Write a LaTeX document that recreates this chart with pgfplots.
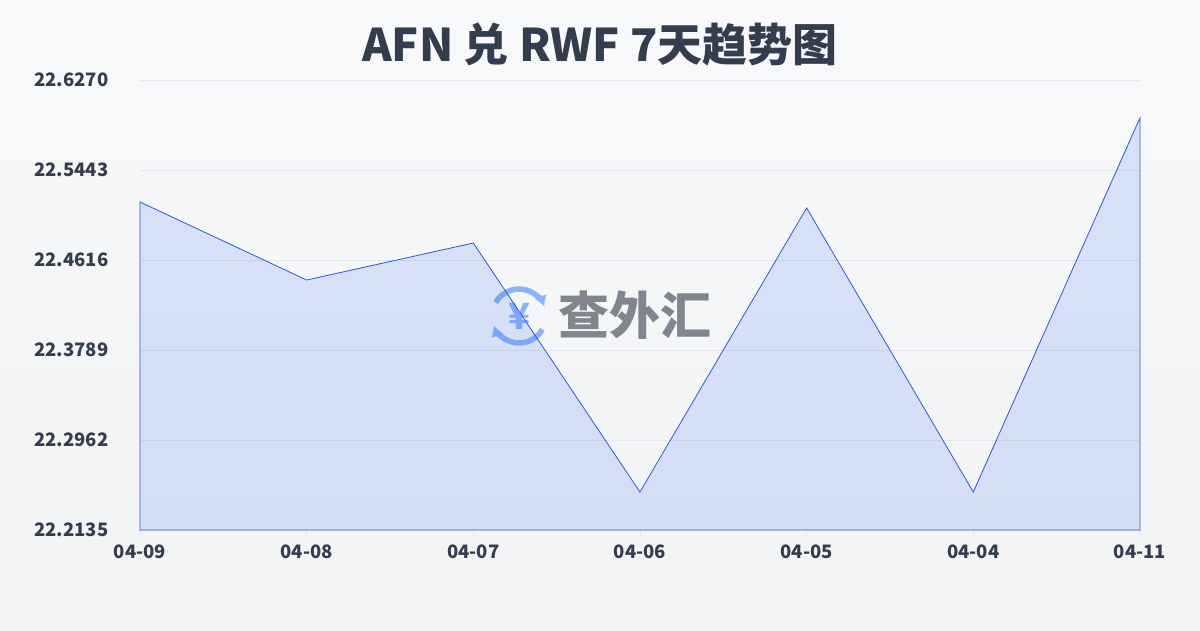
\documentclass[border=0pt]{standalone}
\usepackage{pgfplots}
\pgfplotsset{compat=1.18}
\usetikzlibrary{arrows.meta}
\usepackage{fontspec}
\setmainfont{Noto Sans CJK SC}
\newfontfamily\cjk{Noto Sans CJK SC}
\definecolor{txt}{HTML}{333D4D}
\definecolor{gridc}{HTML}{E3E6EA}
\definecolor{linec}{HTML}{2A5BD0}
\definecolor{fillc}{HTML}{2563EB}
\definecolor{wmblue}{HTML}{8AB4F8}
\definecolor{wmgray}{HTML}{80858E}
\begin{document}
\begin{tikzpicture}[x=1pt,y=1pt]
\shade[top color={rgb,255:red,248;green,249;blue,251}, bottom color={rgb,255:red,241;green,243;blue,245}] (-140,-100) rectangle (1060,530);
\node[font=\cjk\bfseries\fontsize{45}{50}\selectfont, text=txt] at (460,485) {AFN 兑 RWF 7天趋势图};
% watermark
\begin{scope}[shift={(379,214)}, wmblue, line width=5.5]
\draw[-{Latex[length=11,width=13]}] (150:27) arc (150:20:27);
\draw[-{Latex[length=11,width=13]}] (-30:27) arc (-30:-160:27);
\node[font=\cjk\bfseries\fontsize{36}{36}\selectfont, text=wmblue] at (0,0) {¥};
\end{scope}
\node[font=\cjk\bfseries\fontsize{51}{51}\selectfont, text=wmgray] at (495,215) {查外汇};
\begin{axis}[
  at={(0,0)}, anchor=south west,
  scale only axis, width=1000pt, height=450pt,
  xmin=0, xmax=6, ymin=22.2135, ymax=22.6270,
  axis line style={draw=none},
  xtick={0,1,2,3,4,5,6},
  xticklabels={04-09,04-08,04-07,04-06,04-05,04-04,04-11},
  ytick={22.2135,22.2962,22.3789,22.4616,22.5443,22.6270},
  yticklabels={22.2135,22.2962,22.3789,22.4616,22.5443,22.6270},
  ymajorgrids, major grid style={gridc, line width=0.8},
  tick label style={font=\cjk\bfseries\fontsize{18.5}{20}\selectfont, text=txt},
  xtick style={draw=gridc, line width=0.8},
  ytick style={draw=none},
  xtick pos=bottom,
  major tick length=6pt,
  tick align=outside,
  xticklabel style={yshift=-5pt},
  yticklabel style={xshift=-22pt},
  clip=false,
]
\addplot[draw=linec, line width=0.8, fill=fillc, fill opacity=0.15] coordinates {
(0,22.5149) (1,22.4432) (2,22.4772) (3,22.2484) (4,22.5094) (5,22.2484) (6,22.5921)
} \closedcycle;
\end{axis}
\end{tikzpicture}
\end{document}
